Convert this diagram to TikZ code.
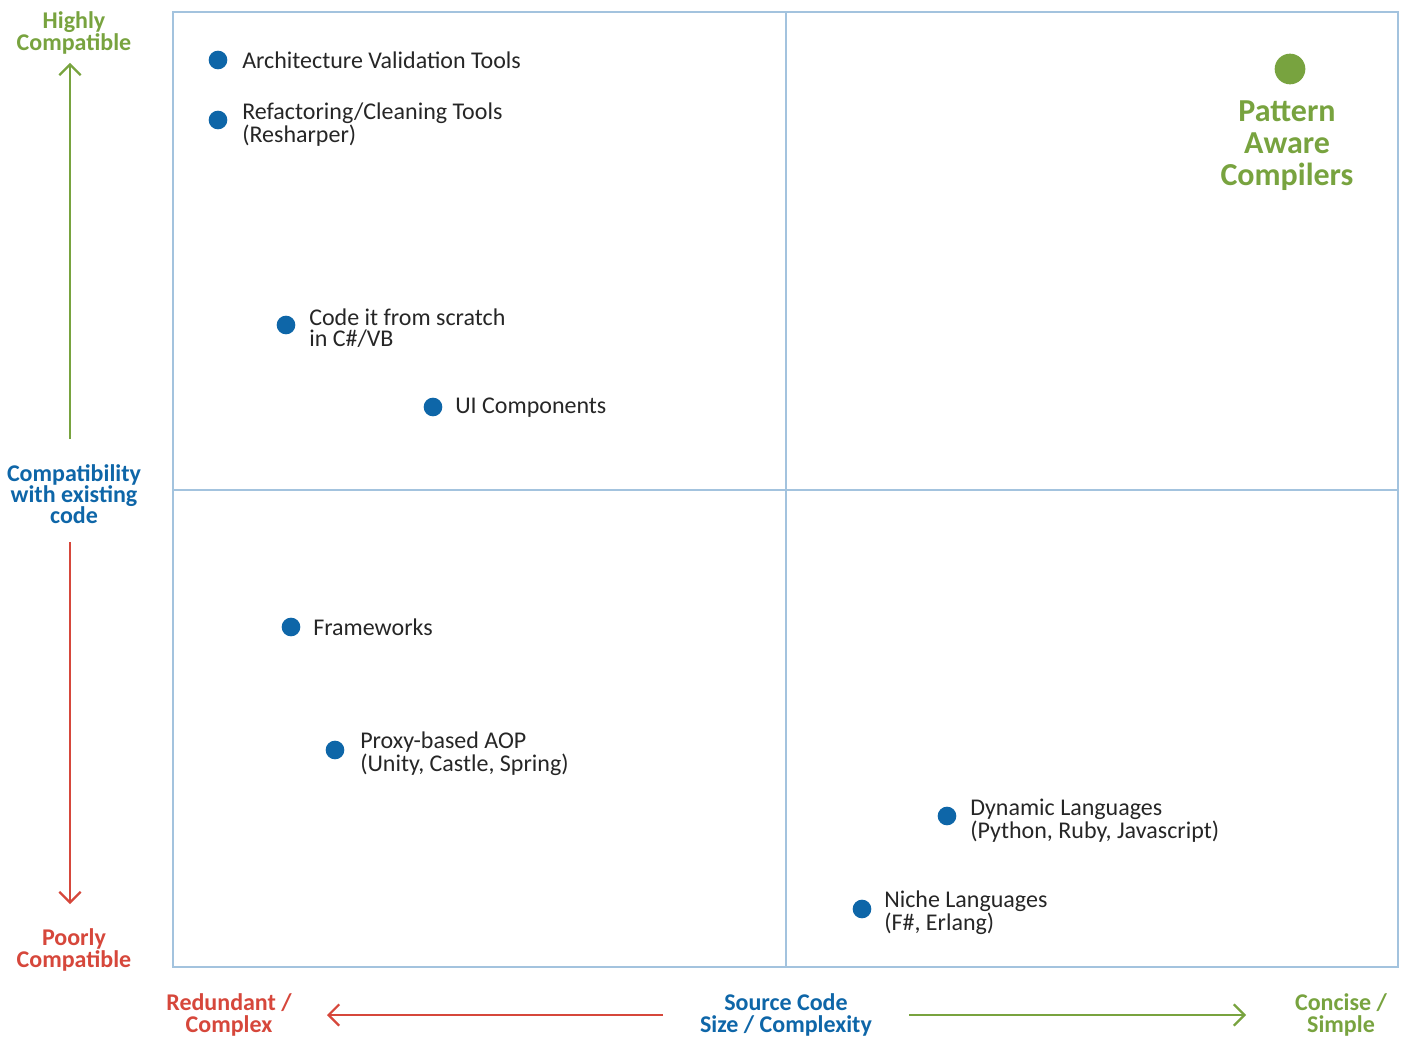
\documentclass[tikz,border=0pt]{standalone}
\usepackage{fontspec}
\setmainfont{Carlito}
\usetikzlibrary{arrows.meta}
\definecolor{gridblue}{HTML}{A3C3DE}
\definecolor{dotblue}{HTML}{0E66A8}
\definecolor{axisgreen}{HTML}{78A33F}
\definecolor{axisred}{HTML}{D6473B}
\definecolor{txtgray}{HTML}{262626}
\begin{document}
\begin{tikzpicture}[x=0.75pt,y=-0.75pt,
  grid/.style={draw=gridblue,line width=1.1pt},
  item/.style={circle,fill=dotblue,inner sep=0pt,minimum size=14pt},
  itemtext/.style={anchor=west,align=left,inner sep=0pt,text=txtgray,font=\fontsize{18}{16}\selectfont},
  axislabel/.style={align=center,inner sep=0pt,font=\bfseries\fontsize{18}{16}\selectfont},
  axisarrow/.style={line width=2.1pt,-{Straight Barb[length=8pt,width=16pt,line width=1.7pt]}}]
\useasboundingbox (0,0) rectangle (1405,1037);

% quadrant frame
\draw[grid] (173,12) rectangle (1398,967);
\draw[grid] (786,12) -- (786,967);
\draw[grid] (173,490) -- (1398,490);

% vertical axis
\node[axislabel,text=axisgreen] (high) at (74,33) {Highly\\Compatible};
\node[axislabel,text=dotblue] (compat) at (74,494) {Compatibility\\with existing\\code};
\node[axislabel,text=axisred] (poor) at (74,950) {Poorly\\Compatible};
\coordinate (upstart) at (70,439);
\coordinate (upend) at (70,63);
\coordinate (downstart) at (70,542);
\coordinate (downend) at (70,904);
\draw[axisarrow,axisgreen] (upstart) -- (upend);
\draw[axisarrow,axisred] (downstart) -- (downend);

% horizontal axis
\node[axislabel,text=axisred] (redund) at (229,1015) {Redundant /\\Complex};
\node[axislabel,text=dotblue] (size) at (786,1015) {Source Code\\Size / Complexity};
\node[axislabel,text=axisgreen] (concise) at (1341,1015) {Concise /\\Simple};
\coordinate (leftstart) at (663,1015);
\coordinate (leftend) at (327,1015);
\coordinate (rightstart) at (909,1015);
\coordinate (rightend) at (1246,1015);
\draw[axisarrow,axisred] (leftstart) -- (leftend);
\draw[axisarrow,axisgreen] (rightstart) -- (rightend);

% items
\node[item] (avt) at (218,60) {};
\node[itemtext] at (242,60) {Architecture Validation Tools};
\node[item] (ref) at (218,120) {};
\node[itemtext] at (242,125) {Refactoring/Cleaning Tools\\(Resharper)};
\node[item] (scratch) at (286,325) {};
\node[itemtext] at (309,328) {Code it from scratch\\in C\#/VB};
\node[item] (ui) at (433,407) {};
\node[itemtext] at (455,408) {UI Components};
\node[item] (fw) at (291,627) {};
\node[itemtext] at (313,627) {Frameworks};
\node[item] (aop) at (335,750) {};
\node[itemtext] at (360,754) {Proxy-based AOP\\(Unity, Castle, Spring)};
\node[item] (dyn) at (947,816) {};
\node[itemtext] at (970,821) {Dynamic Languages\\(Python, Ruby, Javascript)};
\node[item] (niche) at (862,909) {};
\node[itemtext] at (884,913) {Niche Languages\\(F\#, Erlang)};

% highlighted item
\node[circle,fill=axisgreen,inner sep=0pt,minimum size=23pt] (pac) at (1290,69) {};
\node[align=center,inner sep=0pt,text=axisgreen,font=\bfseries\fontsize{24}{24}\selectfont] (pactext) at (1287,146) {Pattern\\Aware\\Compilers};
\end{tikzpicture}
\end{document}
